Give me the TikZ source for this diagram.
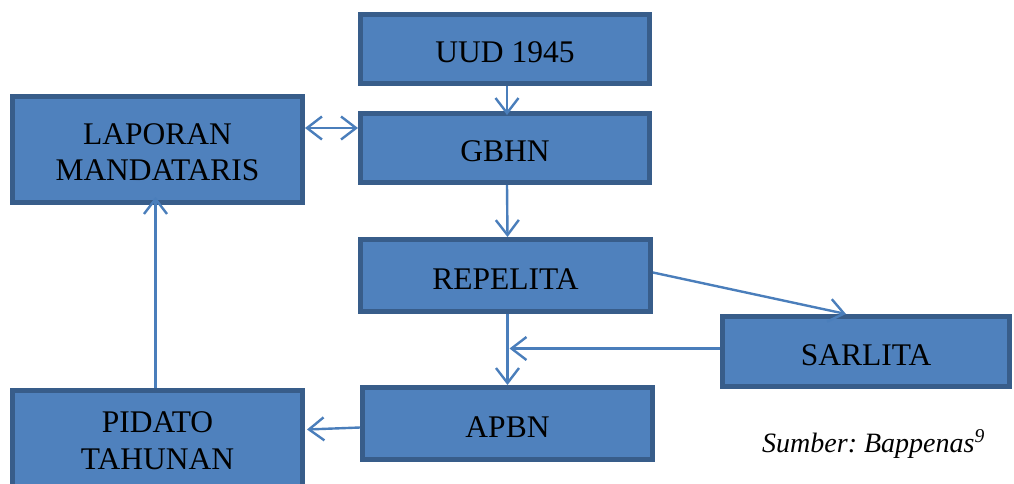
\documentclass[tikz,border=0pt]{standalone}
\usepackage{fontspec}
\setmainfont{Liberation Serif}
\usetikzlibrary{arrows.meta}
\definecolor{boxfill}{HTML}{4F81BD}
\definecolor{boxline}{HTML}{385D8A}
\definecolor{arrcol}{HTML}{4A7EBB}
\tikzset{
  blk/.style={draw=boxline, fill=boxfill, line width=5pt, inner sep=0pt,
    text=black, align=center, text depth=0pt, font=\fontsize{31.5}{36.5}\selectfont},
  barb/.tip={Straight Barb[length=15pt,width=23pt,line width=2.4pt]},
  arr/.style={draw=arrcol, line width=2.4pt, -barb},
  darr/.style={draw=arrcol, line width=2.4pt, barb-barb}
}
\begin{document}
\frenchspacing
\begin{tikzpicture}[x=1pt,y=-1pt]
\useasboundingbox (0,0) rectangle (1014,483);
\node[blk, minimum width=289pt, minimum height=69pt, text height=27pt] (uud) at (505,49) {UUD 1945};
\node[blk, minimum width=289pt, minimum height=69pt, text height=27pt] (gbhn) at (505,148) {GBHN};
\node[blk, minimum width=290pt, minimum height=106pt, text height=62pt] (lap) at (157.5,149.5) {LAPORAN\\MANDATARIS};
\node[blk, minimum width=290pt, minimum height=72pt, text height=27pt] (rep) at (505.5,275.5) {REPELITA};
\node[blk, minimum width=287pt, minimum height=70pt, text height=27pt] (sar) at (866,351.5) {SARLITA};
\node[blk, minimum width=290pt, minimum height=72pt, text height=27pt] (apbn) at (507.5,423.5) {APBN};
\node[blk, minimum width=290pt, minimum height=99pt, text height=58pt] (pid) at (157.5,440) {PIDATO\\TAHUNAN};
\node[anchor=base west, inner sep=0pt, font=\fontsize{28}{32}\selectfont\itshape] (src) at (762,452) {Sumber: Bappenas\textsuperscript{9}};
\coordinate (gw) at ([yshift=20pt]gbhn.west);
\coordinate (se) at ([yshift=3pt]sar.west);
\coordinate (aw) at ([yshift=-4pt]apbn.west);
\draw[arr] ([xshift=2pt]uud.south) -- ([xshift=2pt,yshift=-4pt]gbhn.north);
\draw[darr] (gw) -- (lap.east |- gw);
\draw[arr] ([xshift=2pt]gbhn.south) -- ([xshift=2pt]rep.north);
\draw[arr] ([yshift=3pt]rep.east) -- ([xshift=-20pt]sar.north);
\draw[arr] ([xshift=2pt]rep.south) -- (apbn.north);
\coordinate (j) at ([xshift=4pt]rep.south |- se);
\draw[arr] (se) -- (j);
\draw[arr] (aw) -- ([xshift=2pt,yshift=-2pt]pid.east |- aw);
\draw[arr] ([xshift=-2pt]pid.north) -- ([xshift=-2pt,yshift=8pt]lap.south);
\end{tikzpicture}
\end{document}
